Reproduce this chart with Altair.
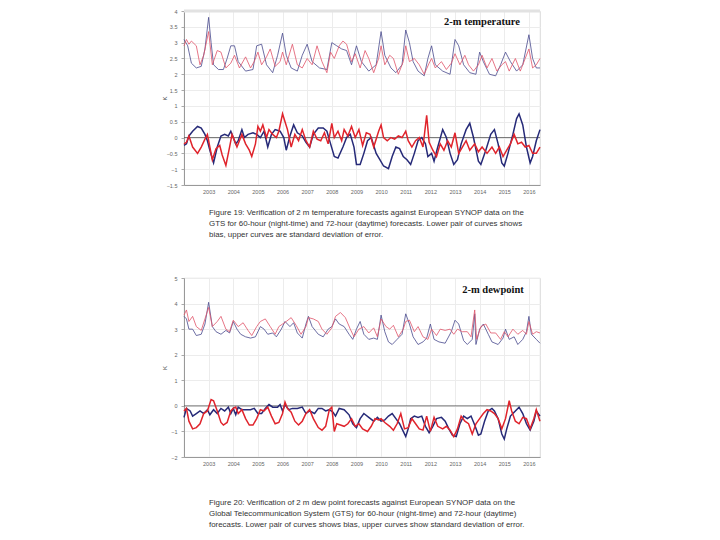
import altair as alt
import pandas as pd

# ---------------- Panel 1: 2-m temperature ----------------
temp_std_blue_t = [2002.0, 2002.15, 2002.3, 2002.5, 2002.7, 2002.85, 2003.0, 2003.1, 2003.2, 2003.4, 2003.6, 2003.75, 2003.9, 2004.05, 2004.2, 2004.5, 2004.8, 2004.95, 2005.15, 2005.35, 2005.6, 2005.8, 2006.0, 2006.15, 2006.35, 2006.6, 2006.8, 2007.0, 2007.2, 2007.5, 2007.8, 2008.0, 2008.2, 2008.4, 2008.6, 2008.8, 2009.0, 2009.2, 2009.5, 2009.8, 2010.0, 2010.15, 2010.4, 2010.6, 2010.85, 2011.0, 2011.15, 2011.3, 2011.5, 2011.75, 2011.9, 2012.05, 2012.2, 2012.5, 2012.8, 2013.0, 2013.15, 2013.35, 2013.6, 2013.85, 2014.0, 2014.15, 2014.4, 2014.65, 2014.85, 2015.05, 2015.25, 2015.5, 2015.75, 2016.0, 2016.15, 2016.3, 2016.45]
temp_std_blue_v = [3.1, 2.9, 2.35, 2.2, 2.25, 2.8, 3.8, 3.0, 2.3, 2.15, 2.15, 2.5, 2.9, 2.9, 2.4, 2.1, 2.15, 2.9, 2.95, 2.3, 2.05, 2.6, 3.3, 2.6, 2.2, 2.1, 2.6, 2.95, 2.4, 2.2, 2.15, 3.0, 2.9, 2.8, 2.75, 2.3, 2.9, 2.4, 2.1, 2.3, 3.35, 2.6, 2.2, 2.05, 2.3, 3.4, 3.0, 2.4, 2.1, 1.95, 2.5, 2.9, 2.3, 2.1, 2.0, 3.1, 2.9, 2.3, 2.05, 2.0, 2.7, 2.4, 2.0, 1.95, 2.3, 2.7, 2.4, 2.1, 2.3, 3.25, 2.5, 2.2, 2.2]

temp_std_red_t = [2002.0, 2002.1, 2002.2, 2002.3, 2002.5, 2002.65, 2002.8, 2003.0, 2003.15, 2003.35, 2003.5, 2003.7, 2003.9, 2004.05, 2004.25, 2004.5, 2004.7, 2004.85, 2005.0, 2005.15, 2005.35, 2005.5, 2005.7, 2005.9, 2006.0, 2006.15, 2006.4, 2006.6, 2006.8, 2007.0, 2007.2, 2007.4, 2007.6, 2007.8, 2007.95, 2008.1, 2008.3, 2008.45, 2008.6, 2008.8, 2008.95, 2009.15, 2009.35, 2009.5, 2009.7, 2009.9, 2010.0, 2010.15, 2010.35, 2010.5, 2010.7, 2010.9, 2011.0, 2011.15, 2011.35, 2011.55, 2011.75, 2011.95, 2012.05, 2012.2, 2012.45, 2012.65, 2012.85, 2013.0, 2013.2, 2013.4, 2013.55, 2013.75, 2013.95, 2014.1, 2014.3, 2014.5, 2014.7, 2014.9, 2015.05, 2015.2, 2015.45, 2015.65, 2015.85, 2016.0, 2016.15, 2016.3, 2016.45]
temp_std_red_v = [2.9, 3.1, 2.95, 3.05, 2.9, 2.3, 2.6, 3.35, 2.3, 2.75, 2.7, 2.2, 2.35, 2.6, 2.2, 2.55, 2.2, 2.4, 2.7, 2.3, 2.55, 2.8, 2.25, 2.4, 2.7, 2.3, 2.95, 2.3, 2.2, 2.5, 2.3, 2.9, 2.4, 2.05, 2.7, 2.5, 2.9, 3.05, 2.95, 2.4, 2.65, 2.2, 2.75, 2.5, 2.05, 2.5, 2.9, 2.3, 2.6, 2.5, 2.0, 2.4, 2.9, 2.4, 2.5, 2.3, 2.0, 2.35, 2.5, 2.2, 2.4, 2.15, 2.35, 2.65, 2.3, 2.6, 2.3, 2.1, 2.3, 2.6, 2.2, 2.5, 2.1, 2.3, 2.4, 2.1, 2.5, 2.1, 2.5, 2.8, 2.2, 2.3, 2.5]

temp_bias_blue_t = [2002.0, 2002.1, 2002.2, 2002.35, 2002.55, 2002.7, 2002.85, 2002.95, 2003.05, 2003.2, 2003.35, 2003.5, 2003.65, 2003.8, 2003.9, 2004.0, 2004.1, 2004.2, 2004.35, 2004.45, 2004.6, 2004.8, 2004.95, 2005.1, 2005.25, 2005.4, 2005.55, 2005.7, 2005.9, 2006.05, 2006.15, 2006.3, 2006.45, 2006.6, 2006.8, 2006.95, 2007.1, 2007.25, 2007.45, 2007.65, 2007.8, 2007.95, 2008.1, 2008.25, 2008.45, 2008.6, 2008.75, 2008.9, 2009.0, 2009.15, 2009.3, 2009.45, 2009.6, 2009.8, 2009.95, 2010.1, 2010.3, 2010.45, 2010.6, 2010.75, 2010.9, 2011.05, 2011.2, 2011.35, 2011.5, 2011.65, 2011.8, 2011.9, 2012.05, 2012.15, 2012.3, 2012.5, 2012.65, 2012.8, 2012.95, 2013.1, 2013.25, 2013.45, 2013.6, 2013.75, 2013.95, 2014.05, 2014.25, 2014.45, 2014.6, 2014.75, 2014.9, 2015.0, 2015.15, 2015.35, 2015.5, 2015.6, 2015.75, 2015.9, 2016.05, 2016.15, 2016.3, 2016.45]
temp_bias_blue_v = [-0.25, -0.2, 0.05, 0.2, 0.35, 0.3, 0.1, -0.1, -0.4, -0.8, -0.3, 0.05, 0.1, 0.05, 0.2, 0.0, -0.2, -0.1, 0.25, 0.0, 0.1, 0.15, 0.1, 0.0, 0.2, -0.3, 0.1, 0.25, 0.2, 0.0, -0.4, 0.05, 0.4, 0.15, 0.05, -0.15, -0.3, 0.1, 0.3, 0.3, 0.2, -0.2, -0.6, -0.65, -0.3, 0.0, 0.1, -0.3, -0.85, -0.85, -0.5, -0.1, 0.0, -0.5, -0.7, -0.9, -0.98, -0.6, -0.3, -0.35, -0.6, -0.7, -0.85, -0.5, -0.1, 0.0, -0.2, -0.6, -0.5, -0.75, -0.3, 0.25, 0.0, -0.5, -0.85, -0.7, -0.2, 0.25, 0.45, 0.0, -0.75, -0.85, -0.4, 0.1, 0.25, -0.2, -0.8, -0.9, -0.5, 0.1, 0.6, 0.75, 0.4, -0.3, -0.8, -0.6, -0.1, 0.25]

temp_bias_red_t = [2002.0, 2002.1, 2002.2, 2002.35, 2002.55, 2002.7, 2002.85, 2002.95, 2003.05, 2003.15, 2003.3, 2003.45, 2003.55, 2003.7, 2003.85, 2003.95, 2004.05, 2004.15, 2004.25, 2004.35, 2004.5, 2004.65, 2004.75, 2004.9, 2005.0, 2005.1, 2005.2, 2005.35, 2005.45, 2005.6, 2005.75, 2005.85, 2006.0, 2006.1, 2006.2, 2006.35, 2006.5, 2006.65, 2006.8, 2006.95, 2007.1, 2007.25, 2007.4, 2007.55, 2007.7, 2007.85, 2008.0, 2008.1, 2008.25, 2008.4, 2008.5, 2008.65, 2008.8, 2008.95, 2009.1, 2009.25, 2009.4, 2009.55, 2009.7, 2009.9, 2010.0, 2010.1, 2010.25, 2010.4, 2010.55, 2010.7, 2010.85, 2011.0, 2011.1, 2011.25, 2011.4, 2011.55, 2011.7, 2011.85, 2011.95, 2012.1, 2012.25, 2012.4, 2012.55, 2012.7, 2012.85, 2013.0, 2013.15, 2013.3, 2013.45, 2013.6, 2013.8, 2013.95, 2014.1, 2014.3, 2014.5, 2014.65, 2014.8, 2014.95, 2015.1, 2015.25, 2015.4, 2015.55, 2015.7, 2015.85, 2016.0, 2016.15, 2016.3, 2016.45]
temp_bias_red_v = [-0.2, -0.15, 0.05, -0.3, -0.5, -0.3, -0.05, 0.1, -0.3, -0.7, -0.35, -0.25, -0.55, -0.88, -0.3, 0.1, -0.1, -0.3, -0.1, 0.1, -0.2, -0.4, -0.6, -0.2, 0.35, 0.2, 0.4, 0.0, 0.25, 0.1, 0.0, 0.2, 0.75, 0.5, 0.25, -0.3, 0.1, -0.1, 0.25, -0.1, -0.3, 0.2, -0.05, -0.1, 0.15, -0.2, 0.45, 0.0, 0.2, -0.1, 0.25, 0.05, 0.35, 0.0, 0.25, -0.25, 0.15, 0.1, -0.3, 0.2, 0.4, 0.0, -0.1, 0.0, -0.05, 0.05, 0.0, 0.2, -0.1, -0.3, -0.1, 0.0, -0.3, 0.7, -0.15, -0.4, -0.6, -0.2, -0.4, -0.1, -0.3, 0.15, -0.5, -0.3, -0.1, -0.4, -0.2, -0.45, -0.3, -0.5, -0.3, -0.5, -0.3, -0.6, -0.4, -0.2, 0.1, -0.2, -0.15, -0.3, -0.25, -0.5, -0.5, -0.3]

# ---------------- Panel 2: 2-m dewpoint ----------------
dew_std_blue_t = [2002.0, 2002.1, 2002.2, 2002.35, 2002.5, 2002.7, 2002.85, 2003.0, 2003.15, 2003.3, 2003.5, 2003.7, 2003.85, 2004.0, 2004.15, 2004.3, 2004.5, 2004.7, 2004.9, 2005.1, 2005.25, 2005.4, 2005.6, 2005.75, 2005.95, 2006.1, 2006.3, 2006.45, 2006.6, 2006.8, 2006.95, 2007.05, 2007.2, 2007.45, 2007.65, 2007.85, 2008.0, 2008.15, 2008.3, 2008.5, 2008.7, 2008.85, 2009.0, 2009.15, 2009.3, 2009.5, 2009.7, 2009.85, 2010.0, 2010.15, 2010.3, 2010.45, 2010.65, 2010.85, 2011.0, 2011.15, 2011.3, 2011.5, 2011.7, 2011.85, 2012.0, 2012.15, 2012.35, 2012.6, 2012.85, 2013.0, 2013.15, 2013.35, 2013.5, 2013.7, 2013.8, 2013.85, 2014.0, 2014.15, 2014.35, 2014.5, 2014.75, 2014.95, 2015.05, 2015.2, 2015.4, 2015.55, 2015.75, 2015.9, 2016.0, 2016.1, 2016.3, 2016.45]
dew_std_blue_v = [3.5, 3.4, 3.0, 3.0, 2.75, 2.8, 3.2, 4.05, 3.1, 2.9, 2.8, 2.95, 2.85, 3.3, 3.0, 2.8, 2.7, 2.65, 2.7, 3.1, 3.0, 2.8, 2.85, 2.7, 3.0, 3.3, 3.1, 3.25, 2.85, 2.65, 3.2, 3.5, 3.1, 2.8, 2.7, 3.0, 3.1, 3.4, 3.2, 3.1, 2.8, 2.6, 3.0, 3.3, 2.8, 2.6, 2.65, 2.6, 3.55, 2.9, 2.5, 2.4, 2.6, 2.8, 3.6, 3.2, 2.7, 2.4, 2.5, 2.65, 3.2, 2.6, 2.5, 2.45, 2.9, 3.35, 3.2, 2.55, 2.4, 2.6, 3.6, 2.4, 3.0, 3.2, 2.8, 2.5, 2.4, 2.65, 3.0, 2.6, 2.7, 2.4, 2.6, 2.9, 3.5, 2.8, 2.6, 2.45]

dew_std_red_t = [2002.0, 2002.1, 2002.2, 2002.35, 2002.5, 2002.7, 2002.85, 2003.0, 2003.15, 2003.35, 2003.5, 2003.7, 2003.85, 2004.0, 2004.2, 2004.4, 2004.6, 2004.75, 2004.95, 2005.1, 2005.3, 2005.5, 2005.7, 2005.85, 2006.0, 2006.15, 2006.35, 2006.55, 2006.75, 2006.95, 2007.05, 2007.25, 2007.45, 2007.6, 2007.8, 2008.0, 2008.15, 2008.35, 2008.55, 2008.75, 2008.9, 2009.1, 2009.3, 2009.5, 2009.7, 2009.85, 2010.0, 2010.2, 2010.35, 2010.5, 2010.7, 2010.9, 2011.0, 2011.15, 2011.35, 2011.5, 2011.7, 2011.9, 2012.05, 2012.25, 2012.4, 2012.6, 2012.8, 2012.95, 2013.1, 2013.3, 2013.5, 2013.65, 2013.8, 2013.88, 2014.05, 2014.25, 2014.45, 2014.65, 2014.85, 2015.0, 2015.15, 2015.35, 2015.55, 2015.75, 2015.9, 2016.0, 2016.15, 2016.3, 2016.45]
dew_std_red_v = [3.55, 3.75, 3.3, 3.5, 3.1, 2.95, 3.4, 3.85, 3.1, 3.3, 3.5, 3.0, 2.9, 3.35, 3.1, 3.25, 2.95, 2.75, 3.1, 3.3, 3.4, 3.1, 2.8, 3.1, 3.2, 3.3, 3.45, 3.15, 2.8, 3.1, 3.45, 3.4, 3.3, 3.0, 2.8, 3.05, 3.5, 3.65, 3.45, 3.0, 2.7, 3.0, 3.1, 2.85, 3.05, 2.7, 3.4, 3.1, 3.0, 3.15, 2.7, 3.0, 3.3, 3.35, 2.9, 3.1, 2.7, 2.6, 3.0, 2.75, 3.0, 2.95, 3.0, 2.8, 3.0, 2.9, 2.9, 2.7, 3.75, 2.6, 3.1, 3.2, 2.85, 2.85, 2.6, 2.9, 2.7, 3.0, 2.8, 2.95, 2.8, 3.3, 2.8, 2.9, 2.85]

dew_bias_blue_t = [2002.0, 2002.1, 2002.25, 2002.35, 2002.5, 2002.65, 2002.8, 2002.95, 2003.05, 2003.2, 2003.35, 2003.5, 2003.65, 2003.8, 2003.9, 2004.0, 2004.1, 2004.2, 2004.35, 2004.5, 2004.7, 2004.85, 2005.0, 2005.15, 2005.3, 2005.45, 2005.6, 2005.8, 2005.9, 2006.0, 2006.1, 2006.25, 2006.4, 2006.6, 2006.8, 2006.95, 2007.1, 2007.3, 2007.45, 2007.6, 2007.75, 2007.9, 2008.05, 2008.15, 2008.3, 2008.5, 2008.7, 2008.85, 2009.0, 2009.15, 2009.3, 2009.5, 2009.7, 2009.85, 2010.0, 2010.15, 2010.3, 2010.45, 2010.6, 2010.75, 2010.9, 2011.0, 2011.1, 2011.2, 2011.35, 2011.5, 2011.65, 2011.8, 2011.95, 2012.1, 2012.25, 2012.45, 2012.6, 2012.75, 2012.9, 2013.05, 2013.2, 2013.35, 2013.5, 2013.65, 2013.8, 2013.95, 2014.05, 2014.2, 2014.35, 2014.5, 2014.6, 2014.75, 2014.9, 2015.0, 2015.1, 2015.25, 2015.45, 2015.6, 2015.75, 2015.9, 2016.05, 2016.2, 2016.3, 2016.45]
dew_bias_blue_v = [-0.45, -0.1, -0.2, -0.4, -0.3, -0.2, -0.3, -0.15, -0.35, -0.15, -0.3, -0.1, -0.2, -0.05, -0.3, -0.1, -0.35, -0.05, -0.15, -0.15, -0.15, -0.1, -0.3, -0.3, -0.1, 0.05, -0.05, -0.05, 0.05, -0.2, 0.05, -0.15, -0.1, -0.1, -0.05, -0.3, -0.2, -0.3, -0.1, -0.1, -0.2, -0.15, -0.25, -0.4, -0.1, -0.15, -0.35, -0.7, -0.85, -0.5, -0.3, -0.45, -0.6, -0.45, -0.6, -0.55, -0.4, -0.3, -0.5, -0.7, -1.0, -1.2, -0.9, -0.5, -0.4, -0.45, -0.4, -0.8, -1.05, -0.8, -0.5, -0.45, -0.6, -0.9, -1.15, -1.2, -0.7, -0.4, -0.5, -0.4, -0.75, -1.15, -1.1, -0.6, -0.2, -0.1, -0.2, -0.5, -1.1, -1.3, -0.9, -0.4, -0.2, -0.05, -0.3, -0.7, -0.95, -0.6, -0.2, -0.4]

dew_bias_red_t = [2002.0, 2002.1, 2002.2, 2002.35, 2002.5, 2002.65, 2002.8, 2002.95, 2003.1, 2003.2, 2003.35, 2003.5, 2003.6, 2003.75, 2003.9, 2004.0, 2004.1, 2004.2, 2004.35, 2004.5, 2004.65, 2004.8, 2004.95, 2005.1, 2005.25, 2005.4, 2005.55, 2005.7, 2005.85, 2006.0, 2006.1, 2006.2, 2006.35, 2006.5, 2006.65, 2006.8, 2006.95, 2007.1, 2007.25, 2007.45, 2007.6, 2007.75, 2007.9, 2008.0, 2008.1, 2008.2, 2008.35, 2008.5, 2008.65, 2008.8, 2008.95, 2009.1, 2009.25, 2009.45, 2009.6, 2009.75, 2009.9, 2010.0, 2010.15, 2010.35, 2010.5, 2010.65, 2010.8, 2010.95, 2011.1, 2011.25, 2011.4, 2011.55, 2011.7, 2011.85, 2012.0, 2012.15, 2012.3, 2012.5, 2012.65, 2012.8, 2012.95, 2013.1, 2013.25, 2013.4, 2013.55, 2013.7, 2013.85, 2014.0, 2014.15, 2014.3, 2014.45, 2014.6, 2014.75, 2014.9, 2015.05, 2015.2, 2015.3, 2015.45, 2015.6, 2015.75, 2015.9, 2016.05, 2016.2, 2016.3, 2016.45]
dew_bias_red_v = [-0.2, -0.1, -0.6, -0.9, -0.85, -0.7, -0.3, -0.2, 0.25, 0.2, -0.2, -0.65, -0.75, -0.65, -0.2, -0.1, -0.05, -0.3, -0.15, -0.5, -0.75, -0.75, -0.5, -0.15, -0.2, -0.05, -0.4, -0.7, -0.65, -0.3, 0.15, -0.1, -0.25, -0.6, -0.75, -0.6, -0.3, -0.15, -0.5, -0.85, -0.95, -0.8, -0.15, -0.05, -1.0, -0.7, -0.75, -0.8, -0.7, -0.5, -0.8, -0.7, -0.9, -1.0, -0.8, -0.5, -0.55, -0.5, -0.65, -0.8, -0.95, -0.7, -0.3, -0.9, -0.85, -0.5, -0.7, -0.9, -0.95, -0.4, -1.0, -0.45, -0.8, -0.9, -0.8, -0.95, -1.2, -0.9, -0.4, -0.6, -0.7, -1.1, -0.7, -0.5, -0.3, -0.15, -0.2, -0.3, -0.5, -0.9, -0.5, 0.2, -0.2, -0.6, -0.7, -0.45, -0.5, -0.9, -0.5, -0.15, -0.6]

year_ticks = list(range(2003, 2017))
temp_y_ticks = [-1.5, -1, -0.5, 0, 0.5, 1, 1.5, 2, 2.5, 3, 3.5, 4]
dew_y_ticks = [-2, -1, 0, 1, 2, 3, 4, 5]

caption19 = ("Figure 19: Verification of 2 m temperature forecasts against European SYNOP data on the\n"
             "GTS for 60-hour (night-time) and 72-hour (daytime) forecasts. Lower pair of curves shows\n"
             "bias, upper curves are standard deviation of error.")
caption20 = ("Figure 20: Verification of 2 m dew point forecasts against European SYNOP data on the\n"
             "Global Telecommunication System (GTS) for 60-hour (night-time) and 72-hour (daytime)\n"
             "forecasts. Lower pair of curves shows bias, upper curves show standard deviation of error.")

BLUE_STD = "#4a4c8e"
RED_STD = "#e0566a"
BLUE_BIAS = "#262a78"
RED_BIAS = "#e0242c"

W = 356


def frame(t, v, name):
    return pd.DataFrame({"t": t, "v": v, "s": name})


def panel(std_b, std_r, bias_b, bias_r, ydom, yticks, h, title, tx, ty, caption, cy, topband):
    std_df = pd.concat([frame(*std_b, "std_blue"), frame(*std_r, "std_red")])
    bias_df = pd.concat([frame(*bias_b, "bias_blue"), frame(*bias_r, "bias_red")])
    xscale = alt.Scale(domain=[2002.0, 2016.45], nice=False, zero=False)
    yscale = alt.Scale(domain=ydom, nice=False, zero=False)
    xaxis = alt.Axis(values=year_ticks, format="d", title=None, labelFontSize=5.5,
                     labelColor="#666", tickSize=0, domainColor="#999",
                     gridColor="#ececec", labelPadding=4, labelOverlap=False)
    yaxis = alt.Axis(values=yticks, format="~g", labelOverlap=False, title="K", titleFontSize=6,
                     titleFontWeight="normal", titleColor="#555", titleX=-17, titleY=h / 2,
                     labelFontSize=5.5, labelColor="#666", tickSize=3, tickColor="#aaa",
                     domainColor="#999", gridColor="#ececec", labelPadding=4)
    x = alt.X("t:Q", scale=xscale, axis=xaxis)
    y = alt.Y("v:Q", scale=yscale, axis=yaxis)
    color = alt.Color("s:N", legend=None,
                      scale=alt.Scale(domain=["std_blue", "std_red", "bias_blue", "bias_red"],
                                      range=[BLUE_STD, RED_STD, BLUE_BIAS, RED_BIAS]))
    std_lines = alt.Chart(std_df).mark_line(strokeWidth=0.9, opacity=0.9).encode(
        x=x, y=y, color=color, detail="s:N")
    bias_lines = alt.Chart(bias_df).mark_line(strokeWidth=1.5).encode(
        x=x, y=y, color=color, detail="s:N")
    zero = alt.Chart(pd.DataFrame({"v": [0.0]})).mark_rule(color="#555", strokeWidth=0.8).encode(y=y)
    ttl = alt.Chart(pd.DataFrame({"txt": [title]})).mark_text(
        font="Liberation Serif", fontWeight="bold", fontSize=10.5, color="#111", align="center",
        baseline="middle").encode(text="txt:N", x=alt.value(tx), y=alt.value(ty))
    cap = alt.Chart(pd.DataFrame({"txt": [caption]})).mark_text(
        font="Liberation Sans", fontSize=7.9, color="#333", align="left", baseline="middle",
        lineBreak="\n", lineHeight=11).encode(text="txt:N", x=alt.value(25), y=alt.value(cy))
    layers = [zero, std_lines, bias_lines, ttl, cap]
    if topband:
        band = alt.Chart(pd.DataFrame({"b": [1]})).mark_rule(color="#e2e2e2", strokeWidth=3).encode(
            x=alt.value(0), x2=alt.value(W), y=alt.value(0))
        layers.insert(0, band)
    return alt.layer(*layers).properties(width=W, height=h)


p1 = panel((temp_std_blue_t, temp_std_blue_v), (temp_std_red_t, temp_std_red_v),
           (temp_bias_blue_t, temp_bias_blue_v), (temp_bias_red_t, temp_bias_red_v),
           [-1.5, 4], temp_y_ticks, 174, "2-m temperature", 298, 11, caption19, 202, True)
p2 = panel((dew_std_blue_t, dew_std_blue_v), (dew_std_red_t, dew_std_red_v),
           (dew_bias_blue_t, dew_bias_blue_v), (dew_bias_red_t, dew_bias_red_v),
           [-2, 5], dew_y_ticks, 179, "2-m dewpoint", 309, 12, caption20, 225, False)

chart = alt.vconcat(p1, p2, spacing=93, bounds="flush").properties(
    padding={"left": 152, "top": 0, "right": 5, "bottom": 5}
).configure_view(stroke="#cfcfcf", strokeWidth=0.8).configure_axis(
    labelFont="Liberation Sans", titleFont="Liberation Sans")

chart.save("out.html", embed_options={"renderer": "svg", "actions": False})
